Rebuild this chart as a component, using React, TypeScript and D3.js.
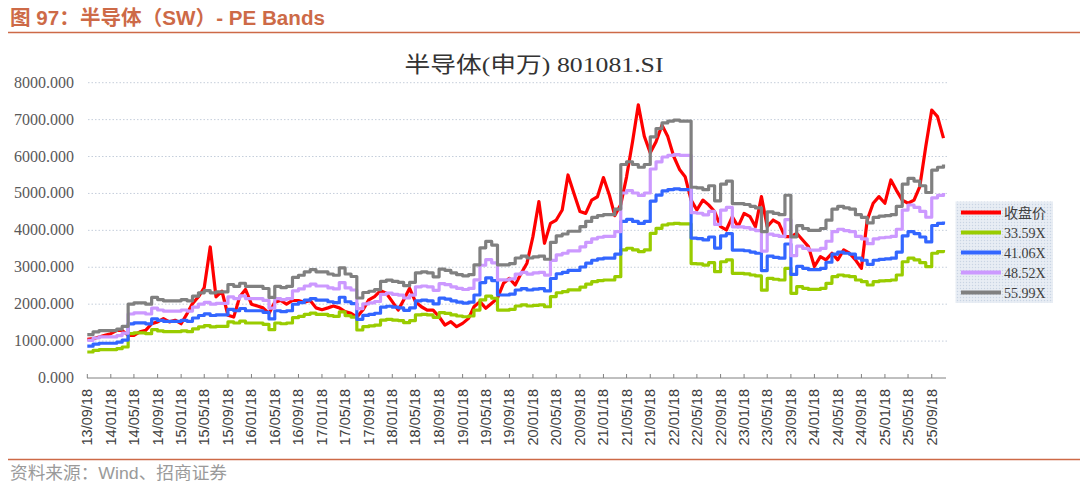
import { useEffect } from "react";
import * as d3 from "d3";

// monthly samples starting 2013-09-18
const startDate = new Date(2013, 8, 18);
const endDate = new Date(2025, 11, 1);

const seriesNames = ["收盘价", "33.59X", "41.06X", "48.52X", "55.99X"];
const peMultiples = [33.59, 41.06, 48.52, 55.99];
const seriesColors = ["#ff0000", "#99cc00", "#3366ff", "#cc99ff", "#808080"];

// close price of 801081.SI
const closePrice = [
  1050, 1065, 1110, 1155, 1200, 1290, 1290, 1155, 1155, 1250,
  1290, 1470, 1520, 1610, 1520, 1565, 1470, 1745, 2015, 2200,
  2450, 3550, 2200, 2350, 1700, 1650, 2200, 2400, 2000, 1950,
  1900, 1750, 2050, 2100, 2000, 2100, 2100, 2050, 2100, 1900,
  1850, 1900, 1950, 1900, 1800, 1750, 1650, 1840, 2115, 2205,
  2365, 2295, 2070, 1840, 2115, 2430, 2070, 1930, 1840, 1840,
  1660, 1435, 1525, 1390, 1480, 1615, 1930, 2070, 1890, 2025,
  2160, 2565, 2700, 2520, 2835, 3110, 3830, 4780, 3650, 4190,
  4280, 4550, 5500, 5000, 4510, 4460, 4820, 4910, 5430, 4950,
  4400, 4700, 5450, 6400, 7400, 6550, 6100, 6400, 6850, 6540,
  6000, 5640, 5455, 4820, 4550, 4820, 4690, 4510, 4100, 4010,
  4370, 4100, 4460, 4370, 4100, 4915, 4100, 4280, 4190, 3830,
  3830, 3920, 3740, 3560, 3020, 3290, 3200, 3380, 3200, 3470,
  3380, 3200, 2970, 4280, 4735, 4915, 4735, 5365, 5090, 4820,
  4735, 4820, 5185, 6270, 7260, 7080, 6500,
];

// lowest band (33.59X); the other bands are the same earnings at higher PE
const band3359 = [
  705, 750, 770, 770, 770, 795, 840, 1200, 1220, 1220,
  1200, 1310, 1275, 1255, 1255, 1255, 1275, 1255, 1330, 1385,
  1420, 1385, 1400, 1400, 1520, 1490, 1540, 1490, 1490, 1490,
  1455, 1310, 1490, 1470, 1490, 1635, 1670, 1725, 1760, 1725,
  1725, 1690, 1670, 1790, 1690, 1650, 1300, 1390, 1410, 1435,
  1570, 1590, 1570, 1555, 1500, 1555, 1710, 1725, 1710, 1645,
  1770, 1750, 1710, 1680, 1660, 1680, 1840, 2115, 2220, 2160,
  1840, 1840, 1860, 1950, 1980, 1950, 1970, 1980, 1930, 2205,
  2310, 2340, 2385, 2385, 2460, 2545, 2610, 2640, 2655, 2655,
  2745, 3470, 3515, 3470, 3425, 3470, 3920, 4055, 4145, 4175,
  4190, 4175, 4175, 3100, 3090, 3060, 3125, 2880, 3150, 3200,
  2835, 2835, 2820, 2790, 2765, 2380, 2700, 2675, 2655, 2970,
  2295, 2475, 2430, 2400, 2400, 2430, 2565, 2745, 2790, 2765,
  2745, 2655, 2610, 2520, 2610, 2630, 2640, 2655, 2790, 3150,
  3245, 3200, 3125, 3015, 3380, 3425, 3470,
];

const yTicks = [0, 1000, 2000, 3000, 4000, 5000, 6000, 7000, 8000];

const W = 1080;
const H = 502;
const accent = "#cd6a47";
const serif = "'Liberation Serif', 'Noto Sans CJK SC', serif";
const sans = "'Liberation Sans', Arial, 'Noto Sans CJK SC', sans-serif";

export default function App() {
  useEffect(() => {
    document.body.style.margin = "0";
  }, []);

  const dates = closePrice.map((_, i) => d3.timeMonth.offset(startDate, i));
  const tickDates = d3.range(0, 37).map((i) => d3.timeMonth.offset(startDate, i * 4));

  const x = d3.scaleTime().domain([startDate, endDate]).range([87.3, 946]);
  const y = d3.scaleLinear().domain([0, 8000]).range([378, 82.7]);

  // price: plain polyline; PE bands move in steps when earnings update
  const priceLine = d3
    .line<number>()
    .x((_, i) => x(dates[i]))
    .y((d) => y(d));
  const bandLine = d3
    .line<number>()
    .x((_, i) => x(dates[i]))
    .y((d) => y(d))
    .curve(d3.curveStepAfter);

  const series = [
    closePrice,
    ...peMultiples.map((pe) => band3359.map((v) => (v * pe) / peMultiples[0])),
  ];

  const fmtTick = d3.timeFormat("%y/%m/%d");
  const fmtY = d3.format(".3f");

  return (
    <svg width={W} height={H} style={{ display: "block", background: "#fff" }}>
      <defs>
        <pattern id="legendFill" width="3" height="3" patternUnits="userSpaceOnUse">
          <rect width="3" height="3" fill="#e4eaf2" />
          <rect width="1" height="1" fill="#c9d4e3" />
          <rect x="1.5" y="1.5" width="1" height="1" fill="#f4f7fa" />
        </pattern>
      </defs>

      {/* header */}
      <text
        x={10}
        y={25}
        fill={accent}
        fontSize={20}
        fontWeight="bold"
        fontFamily={sans}
        textLength={315}
        lengthAdjust="spacingAndGlyphs"
      >
        图 97：半导体（SW）- PE Bands
      </text>
      <line x1={8} x2={W} y1={32.5} y2={32.5} stroke={accent} strokeWidth={1.6} />

      {/* chart title */}
      <text
        x={534}
        y={72}
        textAnchor="middle"
        fontSize={22}
        fill="#333"
        fontFamily={serif}
        textLength={259}
        lengthAdjust="spacingAndGlyphs"
      >
        半导体(申万) 801081.SI
      </text>

      {/* grid + y labels */}
      {yTicks.map((t) => (
        <g key={t}>
          {t > 0 && (
            <line
              x1={88}
              x2={947}
              y1={y(t)}
              y2={y(t)}
              stroke="#c5cedb"
              strokeWidth={1}
              strokeDasharray="1.5 2"
            />
          )}
          <text
            x={74}
            y={y(t) + 5}
            textAnchor="end"
            fontSize={16}
            fill="#595959"
            fontFamily={serif}
          >
            {fmtY(t)}
          </text>
        </g>
      ))}

      {/* series */}
      {series.map((s, i) => (
        <path
          key={seriesNames[i]}
          d={(i === 0 ? priceLine(s) : bandLine(s)) ?? ""}
          fill="none"
          stroke={seriesColors[i]}
          strokeWidth={3.2}
          strokeLinejoin="round"
        />
      ))}

      {/* x axis */}
      <line x1={87} x2={946} y1={378} y2={378} stroke="#808080" strokeWidth={1} />
      {tickDates.map((d) => (
        <g key={d.getTime()}>
          <line x1={x(d)} x2={x(d)} y1={374} y2={378} stroke="#808080" strokeWidth={1} />
          <text
            transform={`translate(${x(d) + 5},389) rotate(-90)`}
            textAnchor="end"
            fontSize={14.5}
            fill="#404040"
            fontFamily={sans}
          >
            {fmtTick(d)}
          </text>
        </g>
      ))}

      {/* legend */}
      <rect x={955.5} y={201.5} width={97.5} height={101.5} fill="url(#legendFill)" />
      {seriesNames.map((n, i) => (
        <g key={n} transform={`translate(0,${212.5 + i * 20})`}>
          <line x1={961} x2={1001} y1={0} y2={0} stroke={seriesColors[i]} strokeWidth={4} />
          <text x={1004} y={5} fontSize={14} fill="#404040" fontFamily={serif}>
            {n}
          </text>
        </g>
      ))}

      {/* footer */}
      <line x1={8} x2={W} y1={459.5} y2={459.5} stroke={accent} strokeWidth={1.6} />
      <text
        x={10}
        y={479}
        fontSize={17}
        fill="#9a9a9a"
        fontFamily={sans}
        textLength={217}
        lengthAdjust="spacingAndGlyphs"
      >
        资料来源：Wind、招商证券
      </text>
    </svg>
  );
}
